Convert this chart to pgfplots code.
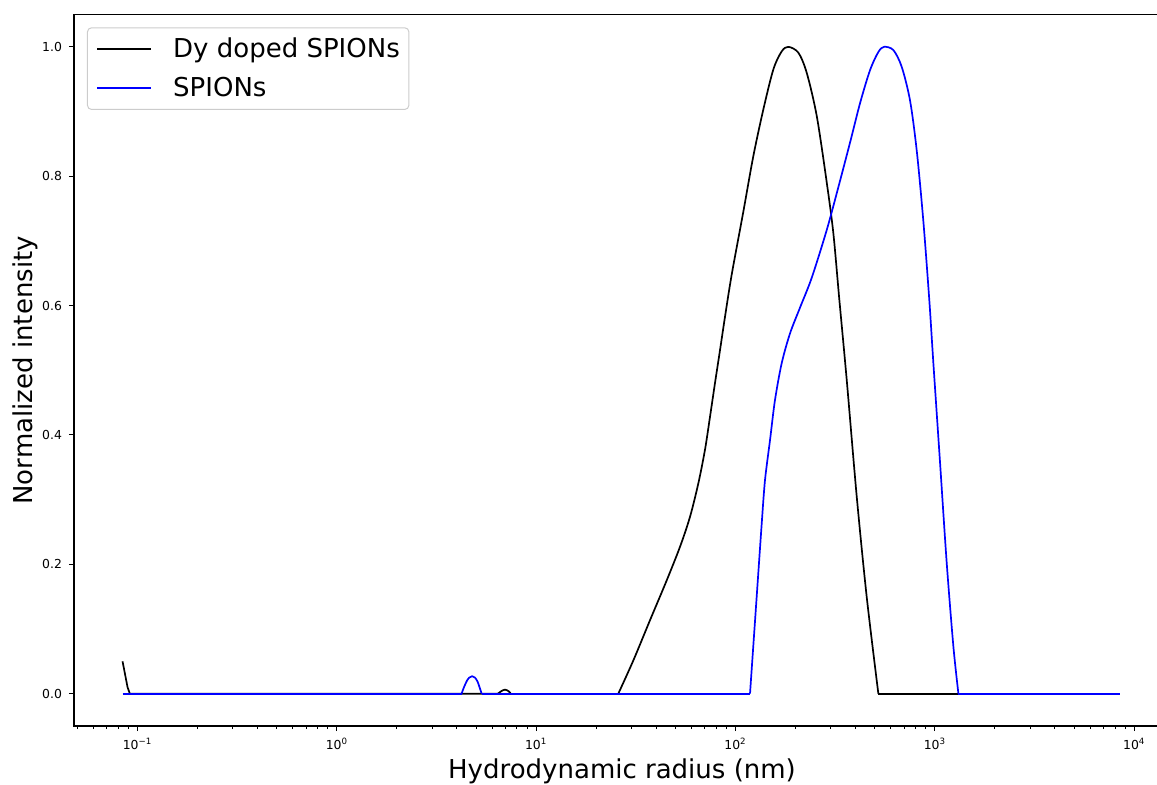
\documentclass[border=0pt]{standalone}
\usepackage{fontspec}
\setmainfont{DejaVu Sans}
\usepackage{pgfplots}
\pgfplotsset{compat=1.18}
\definecolor{mplblue}{rgb}{0,0,1}
\begin{document}
\begin{tikzpicture}
\begin{semilogxaxis}[
  scale only axis,
  width=548pt, height=355.75pt,
  xmin=0.048, xmax=15100,
  ymin=-0.05, ymax=1.05,
  axis line style={black, line width=0.6pt},
  tick align=outside,
  xtick pos=bottom, ytick pos=left,
  major tick length=2.5pt, minor tick length=1.5pt,
  every tick/.style={black, line width=0.5pt},
  xtick={0.1,1,10,100,1000,10000},
  xticklabels={10\textsuperscript{\char"2212 1},10\textsuperscript{0},10\textsuperscript{1},10\textsuperscript{2},10\textsuperscript{3},10\textsuperscript{4}},
  minor xtick={0.05,0.06,0.07,0.08,0.09,0.2,0.3,0.4,0.5,0.6,0.7,0.8,0.9,2,3,4,5,6,7,8,9,20,30,40,50,60,70,80,90,200,300,400,500,600,700,800,900,2000,3000,4000,5000,6000,7000,8000,9000},
  ytick={0,0.2,0.4,0.6,0.8,1.0},
  yticklabel style={/pgf/number format/.cd, fixed, fixed zerofill, precision=1, assume math mode=true},
  ticklabel style={font=\fontsize{6.2}{7}\selectfont},
  xlabel={Hydrodynamic radius (nm)},
  ylabel={Normalized intensity},
  label style={font=\fontsize{13}{15}\selectfont},
  xlabel style={at={(axis description cs:0.5,0)}, anchor=base, yshift=-26pt},
  ylabel style={at={([xshift=-20.5pt]axis description cs:0,0.5)}, anchor=base, rotate=0},
  legend style={at={(axis description cs:0.01186,0.982)}, anchor=north west,
    draw=black!20, line width=0.5pt, fill=white, rounded corners=2pt,
    inner xsep=4.5pt, inner ysep=2.55pt, row sep=3.3pt,
    font=\fontsize{13}{15}\selectfont,
    nodes={inner sep=0pt, text height=12.3pt, text depth=3.9pt},
    /tikz/every odd column/.append style={column sep=10.5pt}},
  legend cell align=left,
  legend image code/.code={\draw[#1] (0pt,0pt) -- (27pt,0pt);},
  every axis plot/.append style={line width=0.85pt, line join=round},
]
% Dy doped SPIONs (black)
\addplot[black, forget plot] coordinates {
(0.0841,0.050) (0.0891,0.010) (0.0915,0) (6.42,0)
};
\addplot[black, smooth, forget plot] coordinates {
(6.42,0) (6.69,0.004) (6.97,0.0062) (7.25,0.004) (7.46,0)
};
\addplot[black, forget plot] coordinates {(7.46,0) (25.8,0)};
\addplot[black, smooth, tension=0.5] coordinates {
(25.8,0) (30.7,0.0515) (37.2,0.1135) (45.1,0.175) (52.6,0.227) (59.0,0.273)
(65.0,0.325) (70.2,0.377) (74.4,0.428) (78.8,0.480) (83.5,0.531) (88.5,0.583)
(95.6,0.648) (109.3,0.745) (122.7,0.831) (137.7,0.903)
(154.6,0.965) (170.3,0.993) (183.8,1.0) (206.4,0.991) (227.3,0.960) (255.3,0.893)
(286.6,0.790) (309.2,0.712) (331.4,0.609) (360.9,0.485) (405.3,0.304) (454.8,0.149)
(520,0)
};
\addlegendentry{Dy doped SPIONs}
\addplot[black, forget plot] coordinates {(520,0) (8486,0)};
% SPIONs (blue)
\addplot[mplblue, forget plot] coordinates {(0.0841,0) (4.22,0)};
\addplot[mplblue, smooth, forget plot] coordinates {
(4.22,0) (4.34,0.010) (4.49,0.020) (4.62,0.025) (4.77,0.027) (4.92,0.025)
(5.07,0.019) (5.22,0.008) (5.32,0)
};
\addplot[mplblue, forget plot] coordinates {(5.32,0) (118.1,0)};
\addplot[mplblue, smooth, tension=0.5] coordinates {
(118.1,0) (125.1,0.112) (130.0,0.187) (135.2,0.263) (140.4,0.330) (148.8,0.392)
(157.6,0.454) (170.3,0.511) (187.5,0.557) (210.5,0.597) (240.9,0.643) (286.6,0.717)
(327.6,0.783) (375,0.852) (421,0.913) (472.4,0.964) (520,0.992) (555.5,1.0) (618.4,0.995)
(681.3,0.969) (750,0.917) (810.5,0.839) (874.7,0.730) (937.4,0.607) (981.7,0.511)
(1061,0.356) (1146,0.201) (1237,0.073) (1311,0)
};
\addlegendentry{SPIONs}
\addplot[mplblue, forget plot] coordinates {(1311,0) (8486,0)};
\end{semilogxaxis}
\pgfresetboundingbox
\useasboundingbox (-37pt,-29pt) rectangle (541.5pt,363pt);
\end{tikzpicture}
\end{document}
